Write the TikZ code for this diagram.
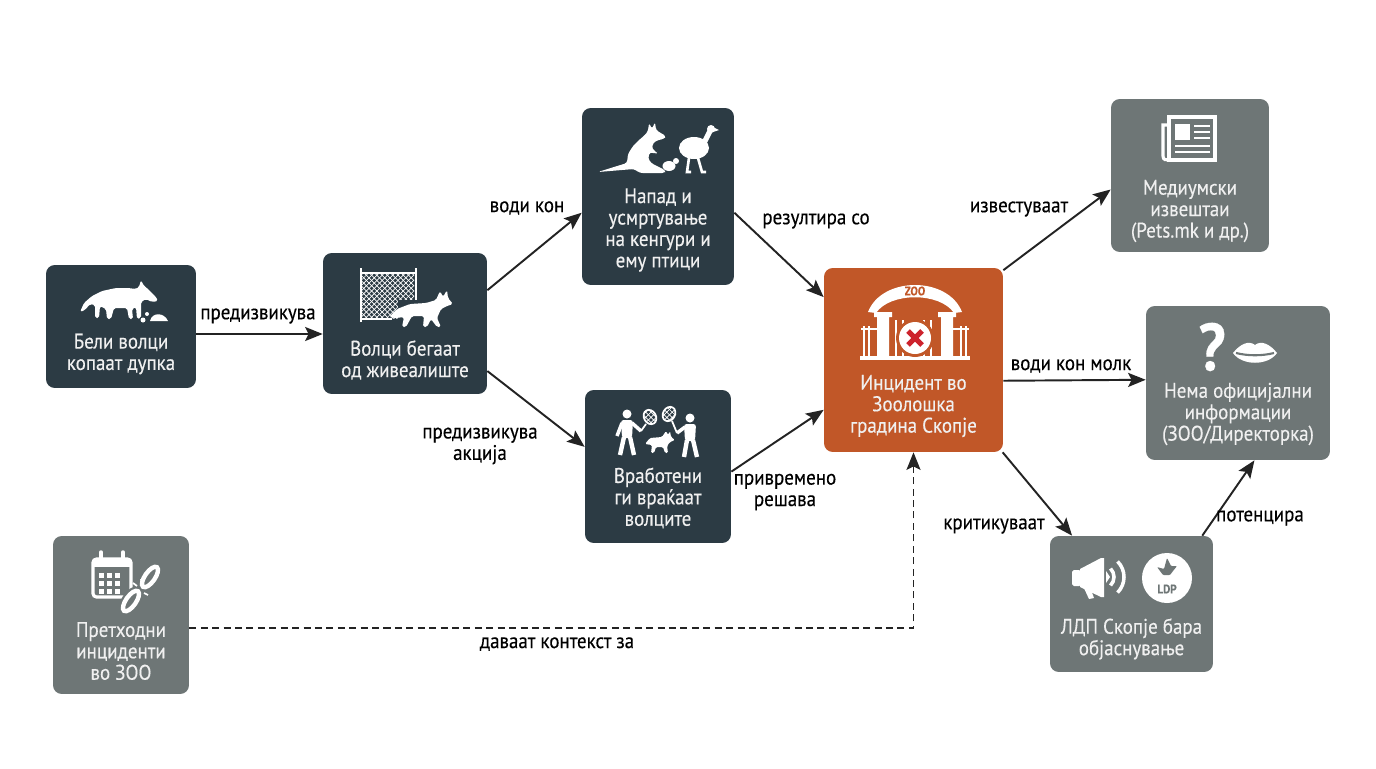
\documentclass[tikz,border=0pt]{standalone}
\usepackage{fontspec}
\setmainfont{PT Sans}[FakeStretch=0.9, FakeBold=0.3]
\usepackage{tikz}
\usetikzlibrary{
    positioning,
    arrows.meta,
    calc,
    patterns
}
\definecolor{boxDark}{RGB}{44, 59, 68}
\definecolor{boxGray}{RGB}{110, 118, 118}
\definecolor{boxOrange}{RGB}{193, 87, 40}
\definecolor{lineDark}{RGB}{35, 35, 35}
\definecolor{crossRed}{RGB}{205, 35, 45}

\begin{document}
\begin{tikzpicture}[x=0.02cm, y=-0.02cm, >={Stealth[length=10pt, width=8pt, inset=2pt]},
    box/.style={rounded corners=5pt, inner sep=0pt},
    boxtxt/.style={text=white!94!black, align=center, inner sep=0pt, font=\fontsize{12}{12.2}\selectfont},
    lbl/.style={align=center, inner sep=1pt, font=\fontsize{12}{12.2}\selectfont},
    flow/.style={->, draw=lineDark, line width=1.1pt},
    ico/.style={fill=white, draw=none}]
    % 背景と枠
    \fill[white] (0,0) rectangle (1376,768);
    \useasboundingbox (0,0) rectangle (1376,768);

    % ボックス
    \node[box, fill=boxDark, minimum width=3cm, minimum height=2.46cm] (dig) at (121,326.5) {};
    \node[box, fill=boxDark, minimum width=3.28cm, minimum height=2.82cm] (escape) at (405,323.5) {};
    \node[box, fill=boxDark, minimum width=3.04cm, minimum height=3.54cm] (attack) at (658,196.5) {};
    \node[box, fill=boxDark, minimum width=2.92cm, minimum height=3.06cm] (capture) at (658,466.5) {};
    \node[box, fill=boxOrange, minimum width=3.58cm, minimum height=3.68cm] (zoo) at (913.5,360) {};
    \node[box, fill=boxGray, minimum width=3.16cm, minimum height=3.06cm] (media) at (1190,175.5) {};
    \node[box, fill=boxGray, minimum width=3.68cm, minimum height=3.08cm] (silence) at (1238,383) {};
    \node[box, fill=boxGray, minimum width=3.26cm, minimum height=2.72cm] (ldp) at (1131.5,604) {};
    \node[box, fill=boxGray, minimum width=2.72cm, minimum height=3.16cm] (past) at (121,615) {};

    % ボックスの文字
    \node[boxtxt] (dig-t) at (121,354) {Бели волци\\копаат дупка};
    \node[boxtxt] (escape-t) at (405,360) {Волци бегаат\\од живеалиште};
    \node[boxtxt] (attack-t) at (658,230) {Напад и\\усмртување\\на кенгури и\\ему птици};
    \node[boxtxt] (capture-t) at (658,498) {Вработени\\ги враќаат\\волците};
    \node[boxtxt] (zoo-t) at (913.5,406) {Инцидент во\\Зоолошка\\градина Скопје};
    \node[boxtxt] (media-t) at (1190,211) {Медиумски\\извештаи\\(Pets.mk и др.)};
    \node[boxtxt] (silence-t) at (1238,414) {Нема официјални\\информации\\(ЗОО/Директорка)};
    \node[boxtxt] (ldp-t) at (1131.5,639) {ЛДП Скопје бара\\објаснување};
    \node[boxtxt] (past-t) at (121,651) {Претходни\\инциденти\\во ЗОО};

    % 矢印
    \draw[flow] ([yshift=-0.15cm]dig.east) -- ([yshift=-0.15cm]dig.east -| escape.west);
    \draw[flow] (escape.22) -- (attack.192);
    \draw[flow] (escape.330) -- (capture.165);
    \draw[flow] (attack.348) -- (zoo.145);
    \draw[flow] (capture.356) -- (zoo.209);
    \draw[flow] (zoo.45) -- (media.190);
    \draw[flow] (zoo.347) -- (silence.178);
    \draw[flow] (zoo.314) -- (ldp.131);
    \draw[flow] (ldp.44) -- (silence.282);
    \draw[flow, dash pattern=on 4pt off 2.5pt, line width=0.9pt] ([yshift=-0.26cm]past.east) -| (zoo.south);

    % 矢印のラベル
    \node[lbl] (l-cause) at (258,316) {предизвикува};
    \node[lbl] (l-lead) at (527,208) {води кон};
    \node[lbl] (l-action) at (480,446) {предизвикува\\акција};
    \node[lbl] (l-result) at (816,221) {резултира со};
    \node[lbl] (l-temp) at (785,492) {привремено\\решава};
    \node[lbl] (l-inform) at (1019,209) {известуваат};
    \node[lbl] (l-mute) at (1071,366) {води кон молк};
    \node[lbl] (l-critic) at (994,526) {критикуваат};
    \node[lbl] (l-stress) at (1260,518) {потенцира};
    \node[lbl] (l-context) at (557,644) {даваат контекст за};

    % アイコン: 掘る狼
    \fill[ico, rounded corners=1pt] (80,312) -- (84,303) -- (92,296) -- (102,291) -- (116,288) -- (128,288) -- (136,289) -- (139,287) -- (141,280) -- (144,286) -- (147,288) -- (156,297) -- (158,301) -- (152,302) -- (146,299) -- (141,302) -- (141,318) -- (137,319) -- (136,307) -- (132,309) -- (133,319) -- (129,319) -- (127,308) -- (114,308) -- (111,319) -- (107,319) -- (106,309) -- (100,306) -- (99,318) -- (95,318) -- (95,305) -- (90,304) -- (85,310) -- cycle;
    \fill[ico] (150,321) .. controls (152,312) and (164,312) .. (168,321) -- cycle;
    \fill[ico] (143,320) circle (0.05cm);
    \fill[ico] (147,314) circle (0.04cm);

    % アイコン: 柵と狼
    \fill[pattern=north east lines, pattern color=white] (362,273) rectangle (414,318);
    \fill[pattern=north west lines, pattern color=white] (362,273) rectangle (414,318);
    \draw[white, line width=1.5pt] (361,322) -- (361,268) (416,300) -- (416,268) (361,273) -- (416,273) (361,319) -- (392,319);
    \fill[boxDark] (398,300) rectangle (416,322);
    \fill[ico, rounded corners=1pt] (389,317) -- (397,309) -- (410,304) -- (426,303) -- (436,300) -- (440,291) -- (443,297) -- (447,290) -- (448,298) -- (453,304) -- (447,306) -- (441,309) -- (437,318) -- (441,327) -- (437,327) -- (431,319) -- (427,327) -- (423,327) -- (424,316) -- (412,316) -- (406,327) -- (402,327) -- (404,317) -- (396,318) -- cycle;

    % アイコン: カンガルーとエミュー
    \fill[ico, rounded corners=1.5pt] (598,172) -- (614,167) -- (627,163) -- (628,154) -- (633,146) -- (639,140) -- (645,135) -- (648,131) -- (649,123) -- (652,129) -- (655,122) -- (656,130) -- (659,132) -- (666,136) -- (664,139) -- (658,140) -- (653,143) -- (652,149) -- (657,152) -- (656,154) -- (650,152) -- (648,158) -- (651,163) -- (665,170) -- (665,173) -- (640,173) -- (634,169) -- cycle;
    \fill[ico] (669,166) ellipse (0.13cm and 0.1cm);
    \fill[ico] (676,161) circle (0.06cm);
    \fill[ico] (694,148) ellipse (0.3cm and 0.22cm);
    \draw[white, line width=3pt, line cap=round] (704,143) -- (710,131);
    \fill[ico] (711,129) circle (0.08cm);
    \fill[ico] (713,127) -- (719,130) -- (713,132) -- cycle;
    \draw[white, line width=1.5pt] (689,158) -- (687,172) -- (691,172) (698,158) -- (702,172) -- (706,172);

    % アイコン: 職員と網
    \fill[ico] (627,414) circle (0.09cm);
    \fill[ico, rounded corners=1.5pt] (621,420) -- (633,420) -- (632,438) -- (622,438) -- cycle;
    \draw[white, line width=2.5pt] (624,437) -- (620,455) (630,437) -- (634,455);
    \draw[white, line width=2pt] (632,423) -- (641,431) (622,423) -- (617,436);
    \draw[white, line width=1pt] (641,431) -- (646,424);
    \fill[pattern=crosshatch, pattern color=white, rotate around={30:(650,417)}] (650,417) ellipse (0.12cm and 0.15cm);
    \draw[white, line width=1pt, rotate around={30:(650,417)}] (650,417) ellipse (0.12cm and 0.15cm);
    \fill[ico] (690,418) circle (0.09cm);
    \fill[ico, rounded corners=1.5pt] (684,424) -- (696,424) -- (695,441) -- (685,441) -- cycle;
    \draw[white, line width=2.5pt] (687,440) -- (684,457) (693,440) -- (697,457);
    \draw[white, line width=2pt] (685,427) -- (677,433);
    \draw[white, line width=1pt] (677,433) -- (672,421);
    \fill[pattern=crosshatch, pattern color=white, rotate around={-30:(669,414)}] (669,414) ellipse (0.12cm and 0.15cm);
    \draw[white, line width=1pt, rotate around={-30:(669,414)}] (669,414) ellipse (0.12cm and 0.15cm);
    \fill[ico, rounded corners=0.8pt] (645,444) -- (650,438) -- (662,437) -- (666,431) -- (668,435) -- (670,431) -- (671,437) -- (675,440) -- (670,442) -- (667,446) -- (668,453) -- (665,453) -- (663,447) -- (656,447) -- (654,453) -- (651,453) -- (652,445) -- cycle;

    % アイコン: 動物園の門
    \fill[ico] (868,312) .. controls (882,276) and (948,276) .. (962,312) -- (954,313) .. controls (940,292) and (890,292) .. (876,313) -- cycle;
    \node[text=boxOrange, font=\bfseries\fontsize{7}{7}\selectfont] (zoo-sign) at (915,291) {ZOO};
    \fill[ico] (874,312) rectangle (892,317) (877,317) rectangle (889,358);
    \fill[ico] (938,312) rectangle (956,317) (941,317) rectangle (953,358);
    \foreach \gx in {896,903,...,934} \draw[white, line width=1pt] (\gx,320) -- (\gx,358);
    \foreach \gx in {864,869} \draw[white, line width=1.5pt] (\gx,326) -- (\gx,358);
    \foreach \gx in {961,966} \draw[white, line width=1.5pt] (\gx,326) -- (\gx,358);
    \draw[white, line width=1.5pt] (861,329) -- (877,329) (953,329) -- (969,329);
    \fill[ico] (860,356) rectangle (970,360);
    \fill[boxOrange] (915,338) circle (0.38cm);
    \fill[ico] (915,338) circle (0.32cm);
    \draw[crossRed, line width=3pt] (908,331) -- (922,345) (922,331) -- (908,345);

    % アイコン: 新聞
    \draw[white, line width=1.8pt] (1169,117) rectangle (1215,160);
    \draw[white, line width=1.8pt] (1169,125) -- (1163,125) -- (1163,156) .. controls (1163,160) and (1166,160) .. (1169,160);
    \fill[ico] (1175,124) rectangle (1190,140);
    \foreach \ly in {126,132,138} \draw[white, line width=1.5pt] (1194,\ly) -- (1210,\ly);
    \foreach \ly in {146,152} \draw[white, line width=1.5pt] (1175,\ly) -- (1210,\ly);

    % アイコン: 疑問符と唇
    \node[text=white, font=\bfseries\fontsize{38}{38}\selectfont] (qmark) at (1212,347) {?};
    \fill[ico] (1233,353) .. controls (1240,344) and (1249,340) .. (1255,345) .. controls (1261,340) and (1270,344) .. (1277,353) .. controls (1268,366) and (1242,366) .. (1233,353) -- cycle;
    \draw[boxGray, line width=1.2pt] (1236,353) .. controls (1248,356) and (1262,356) .. (1274,353);

    % アイコン: メガホンとLDP
    \fill[ico, rounded corners=1pt] (1072,570) rectangle (1081,586);
    \fill[ico] (1080,569) -- (1101,558) -- (1104,558) -- (1104,597) -- (1101,597) -- (1080,587) -- cycle;
    \fill[ico] (1083,586) -- (1089,599) -- (1094,598) -- (1090,587) -- cycle;
    \fill[ico] (1106,571) -- (1110,577) -- (1106,583) -- cycle;
    \draw[white, line width=2pt] (1102,577) ++(45:0.24cm) arc[start angle=45, end angle=-45, radius=0.24cm];
    \draw[white, line width=2pt] (1102,577) ++(45:0.44cm) arc[start angle=45, end angle=-45, radius=0.44cm];
    \fill[ico] (1167,578) circle (0.5cm);
    \fill[boxGray, rounded corners=0.5pt] (1157,567) -- (1164,569) -- (1167,558) -- (1171,566) -- (1177,566) -- (1173,571) -- (1170,575) -- (1163,575) -- cycle;
    \node[text=boxGray, font=\bfseries\fontsize{7}{7}\selectfont] (ldp-logo) at (1167,589) {LDP};

    % アイコン: カレンダーと鎖
    \draw[white, line width=1.8pt, rounded corners=2pt] (93,559) rectangle (131,597);
    \fill[ico] (93,559) rectangle (131,567);
    \draw[white, line width=2pt, line cap=round] (101,552) -- (101,561) (123,552) -- (123,561);
    \foreach \cx in {99,107,115} \foreach \cy in {573,581,589} \fill[ico] (\cx,\cy) rectangle ++(5,5);
    \draw[boxGray, line width=5pt, rotate around={55:(150,577)}] (150,577) ellipse (0.24cm and 0.1cm);
    \draw[boxGray, line width=5pt, rotate around={55:(131,601)}] (131,601) ellipse (0.24cm and 0.1cm);
    \draw[white, line width=2.5pt, rotate around={55:(150,577)}] (150,577) ellipse (0.24cm and 0.1cm);
    \draw[white, line width=2.5pt, rotate around={55:(131,601)}] (131,601) ellipse (0.24cm and 0.1cm);
    \draw[white, line width=1pt] (137,586) -- (133,583) (142,584) -- (141,579) (144,593) -- (148,595);
\end{tikzpicture}
\end{document}
